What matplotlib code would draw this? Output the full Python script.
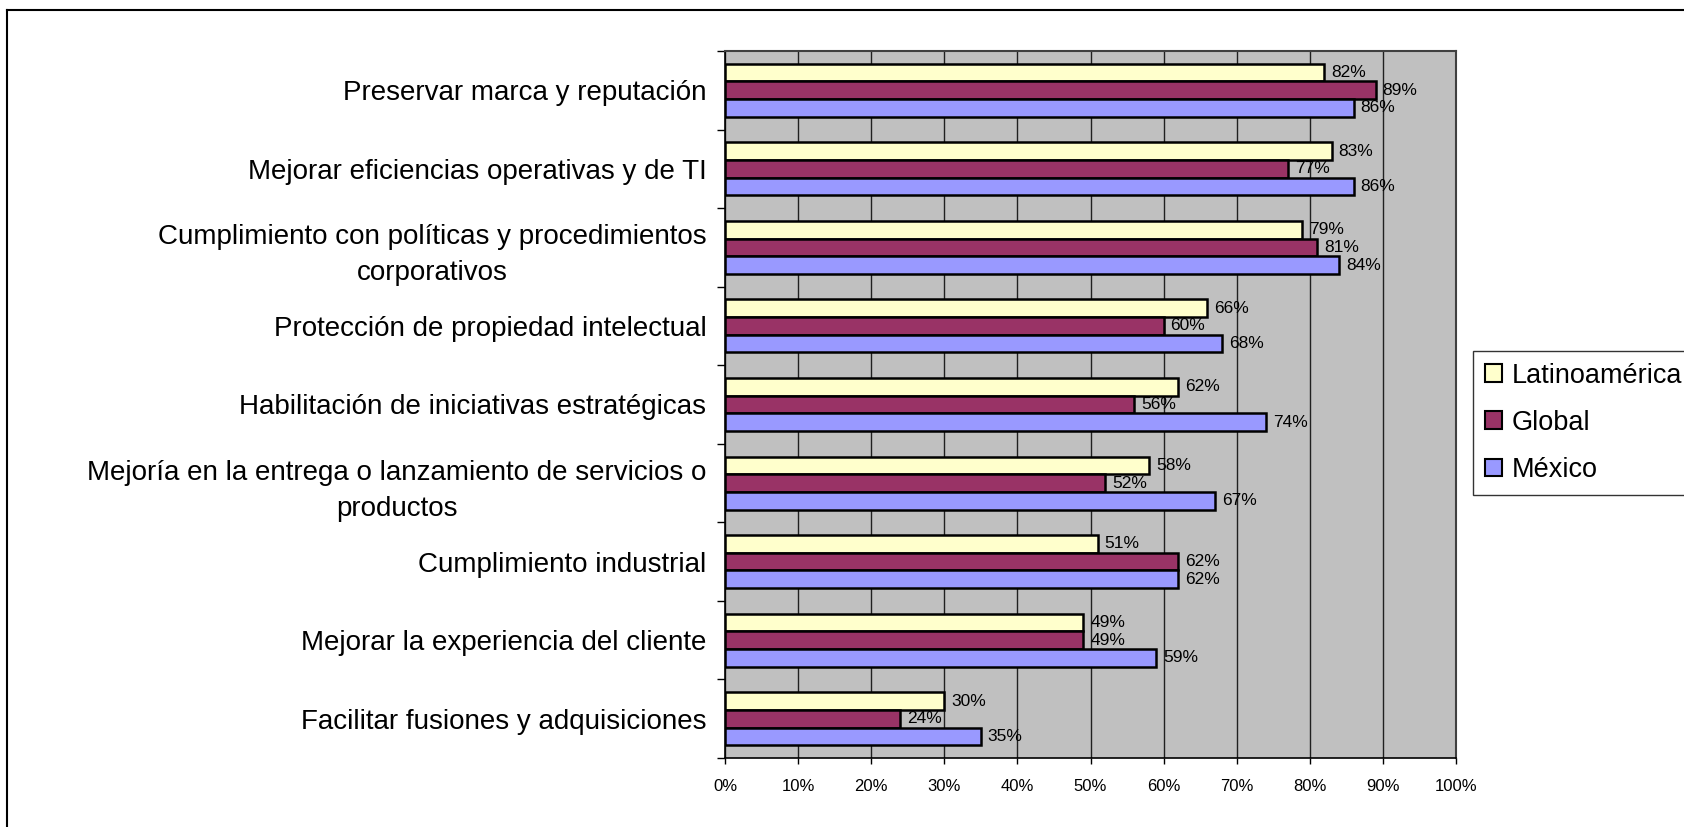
import matplotlib
matplotlib.use("Agg")
import matplotlib.pyplot as plt
from matplotlib.patches import Patch
from matplotlib.lines import Line2D
import numpy as np

plt.rcParams['font.family'] = ['Liberation Sans', 'DejaVu Sans']

categories = [
    "Preservar marca y reputación",
    "Mejorar eficiencias operativas y de TI",
    "Cumplimiento con políticas y procedimientos\ncorporativos",
    "Protección de propiedad intelectual",
    "Habilitación de iniciativas estratégicas",
    "Mejoría en la entrega o lanzamiento de servicios o\nproductos",
    "Cumplimiento industrial",
    "Mejorar la experiencia del cliente",
    "Facilitar fusiones y adquisiciones",
]
series_names = ["Latinoamérica", "Global", "México"]
latam = [82, 83, 79, 66, 62, 58, 51, 49, 30]
global_ = [89, 77, 81, 60, 56, 52, 62, 49, 24]
mexico = [86, 86, 84, 68, 74, 67, 62, 59, 35]
series_values = [latam, global_, mexico]
colors = ["#FFFFCC", "#993366", "#9999FF"]
xticks = list(range(0, 101, 10))
xtick_labels = [f"{t}%" for t in xticks]

W, H = 1684, 827
fig = plt.figure(figsize=(W / 100, H / 100), dpi=100)
fig.patch.set_facecolor("white")

# outer frame (left and top edges visible)
fig.add_artist(Line2D([7 / W, 7 / W], [0, 1 - 10 / H], color="black", lw=1.5, transform=fig.transFigure))
fig.add_artist(Line2D([7 / W, 1], [1 - 10 / H, 1 - 10 / H], color="black", lw=1.5, transform=fig.transFigure))

ax = fig.add_axes([725 / W, 1 - 758 / H, (1456 - 725) / W, (758 - 51) / H])
ax.set_facecolor("#C0C0C0")

n = len(categories)
centers = np.arange(n) + 0.5
bh = 0.225
offsets = [-bh, 0, bh]

z = 3
for vals, col, off in zip(series_values, colors, offsets):
    ypos = centers + off
    ax.barh(ypos, vals, height=bh, color=col, edgecolor="black", linewidth=1.8, zorder=z)
    for yy, v in zip(ypos, vals):
        ax.annotate(f"{v}%", xy=(v, yy), xytext=(5, 0), textcoords="offset points",
                    va="center", ha="left", fontsize=12.5, color="black", zorder=z + 0.5)
    z += 1

ax.set_xlim(0, 100)
ax.set_ylim(n, 0)

ax.set_xticks(xticks)
ax.set_xticklabels(xtick_labels, fontsize=12)
ax.tick_params(axis="x", direction="out", length=4, width=1, pad=11, colors="black")

ax.set_yticks(centers)
ax.set_yticklabels(categories, fontsize=20)
for lbl in ax.get_yticklabels():
    lbl.set_multialignment("center")
    lbl.set_linespacing(1.5)
ax.set_yticks(np.arange(0, n + 1), minor=True)
ax.tick_params(axis="y", which="major", length=0, pad=13.5)
ax.tick_params(axis="y", which="minor", direction="out", length=6, width=1)

ax.xaxis.grid(True, color="#202020", lw=1.0, zorder=1)
ax.set_axisbelow(True)

for s in ["left", "bottom"]:
    ax.spines[s].set_color("black")
    ax.spines[s].set_linewidth(1.2)
for s in ["top", "right"]:
    ax.spines[s].set_color("#404040")
    ax.spines[s].set_linewidth(1.5)

handles = [Patch(facecolor=c, edgecolor="black", linewidth=1.5) for c in colors]
leg = fig.legend(handles, series_names, loc="upper left",
                 bbox_to_anchor=(1473 / W, 1 - 351 / H), bbox_transform=fig.transFigure,
                 fontsize=19.5, frameon=True, fancybox=False, borderaxespad=0,
                 handlelength=0.63, handleheight=0.63, handletextpad=0.37,
                 labelspacing=0.78, borderpad=0.43)
leg.get_frame().set_edgecolor("black")
leg.get_frame().set_linewidth(1.0)

fig.savefig("out.png", dpi=100)
